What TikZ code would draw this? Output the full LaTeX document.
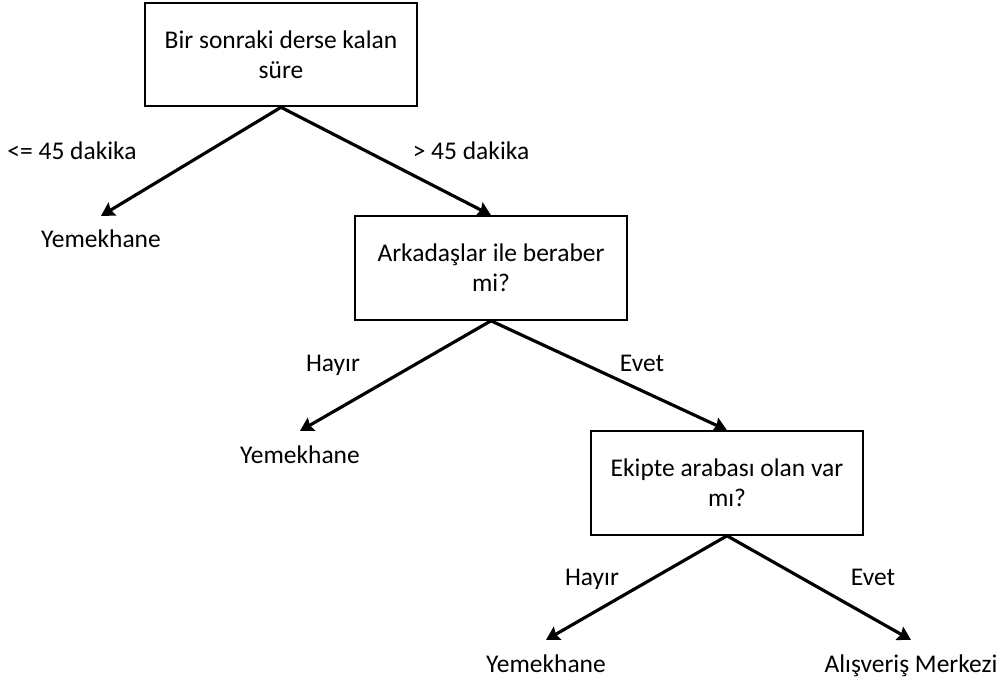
\documentclass[tikz,border=0pt]{standalone}
\usepackage{fontspec}
\setmainfont{Carlito}
\usetikzlibrary{arrows.meta, positioning}

\tikzset{
    question/.style={draw, line width=1.2pt, minimum width=5.44cm, minimum height=2.07cm,
        align=center, font=\fontsize{14.5}{16.8}\selectfont},
    leaf/.style={inner sep=8pt, anchor=base, font=\fontsize{14.5}{16.8}\selectfont},
    choice/.style={anchor=base, font=\fontsize{14.5}{16.8}\selectfont},
    branch/.style={line width=1.8pt, -{Stealth[length=7.5pt, width=8.5pt, inset=1pt]}}
}

\begin{document}
\begin{tikzpicture}[x=0.02cm, y=0.02cm]
            \useasboundingbox (0,0) rectangle (1005,-682);

            \node[question] (q1) at (281, -54.5) {Bir sonraki derse kalan\\süre};
            \node[question] (q2) at (491, -268) {Arkadaşlar ile beraber\\mi?};
            \node[question] (q3) at (727, -483) {Ekipte arabası olan var\\mı?};

            \node[leaf] (y1) at (101, -248) {Yemekhane};
            \node[leaf] (y2) at (300, -463) {Yemekhane};
            \node[leaf] (y3) at (546, -672) {Yemekhane};
            \node[leaf] (avm) at (911, -672) {Alışveriş Merkezi};

            \node[choice] (c1) at (72, -160) {<= 45 dakika};
            \node[choice] (c2) at (471, -160) {> 45 dakika};
            \node[choice] (c3) at (333, -372) {Hayır};
            \node[choice] (c4) at (642, -372) {Evet};
            \node[choice] (c5) at (592, -585) {Hayır};
            \node[choice] (c6) at (873, -585) {Evet};

            \draw[branch] (q1.south) -- (y1.north);
            \draw[branch] (q1.south) -- (q2.north);
            \draw[branch] (q2.south) -- (y2.north);
            \draw[branch] (q2.south) -- (q3.north);
            \draw[branch] (q3.south) -- (y3.north);
            \draw[branch] (q3.south) -- (avm.north);
        \end{tikzpicture}
\end{document}
